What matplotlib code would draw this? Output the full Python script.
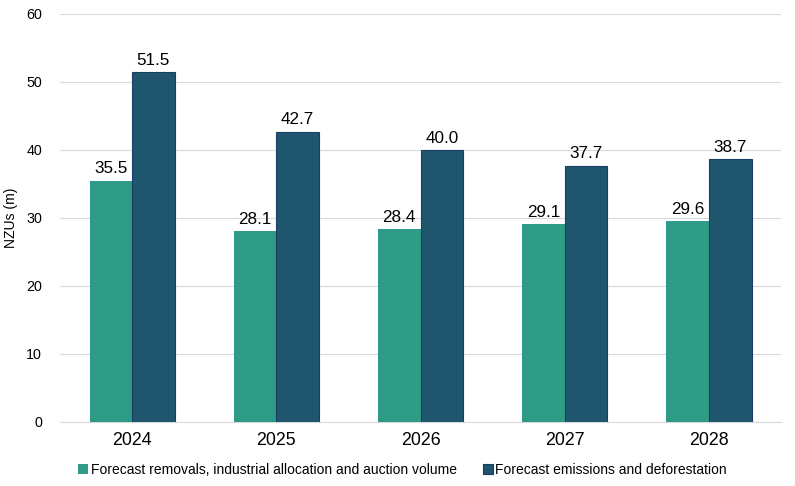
import matplotlib.pyplot as plt
import numpy as np

plt.rcParams['font.family'] = ['Liberation Sans', 'DejaVu Sans']

years = ['2024', '2025', '2026', '2027', '2028']
removals = [35.5, 28.1, 28.4, 29.1, 29.6]
emissions = [51.5, 42.7, 40.0, 37.7, 38.7]

green = '#2e9b86'
blue = '#1f566e'

fig = plt.figure(figsize=(7.95, 4.86), dpi=100)
ax = fig.add_axes([0.0755, 0.1317, 0.907, 0.8395])

x = np.arange(len(years))
w = 0.295
b1 = ax.bar(x - w / 2, removals, w, color=green, label='Forecast removals, industrial allocation and auction volume', zorder=3)
b2 = ax.bar(x + w / 2, emissions, w, color=blue, edgecolor='#173f66', linewidth=0.8,
            label='Forecast emissions and deforestation', zorder=3)
ax.bar_label(b1, fmt='%.1f', padding=3, fontsize=12.3)
ax.bar_label(b2, fmt='%.1f', padding=3, fontsize=12.3)

ax.set_xlim(-0.5, len(years) - 0.5)
ax.set_ylim(0, 60)
ax.set_yticks(range(0, 61, 10))
ax.set_xticks(x)
ax.set_xticklabels(years, fontsize=12.8)
ax.tick_params(axis='y', labelsize=10.3, length=0, pad=13)
ax.tick_params(axis='x', length=0, pad=7)
ax.grid(axis='y', color='#d9d9d9', linewidth=0.8, zorder=0)
for s in ['top', 'right', 'left']:
    ax.spines[s].set_visible(False)
ax.spines['bottom'].set_color('#d9d9d9')
ax.set_ylabel('NZUs (m)', fontsize=10, labelpad=6)

ax.legend(loc='upper center', bbox_to_anchor=(0.475, -0.07), ncol=2, frameon=False,
          fontsize=10, handlelength=0.7, handleheight=0.7, handletextpad=0.2, columnspacing=1.9)

fig.savefig('out.png', dpi=100)
